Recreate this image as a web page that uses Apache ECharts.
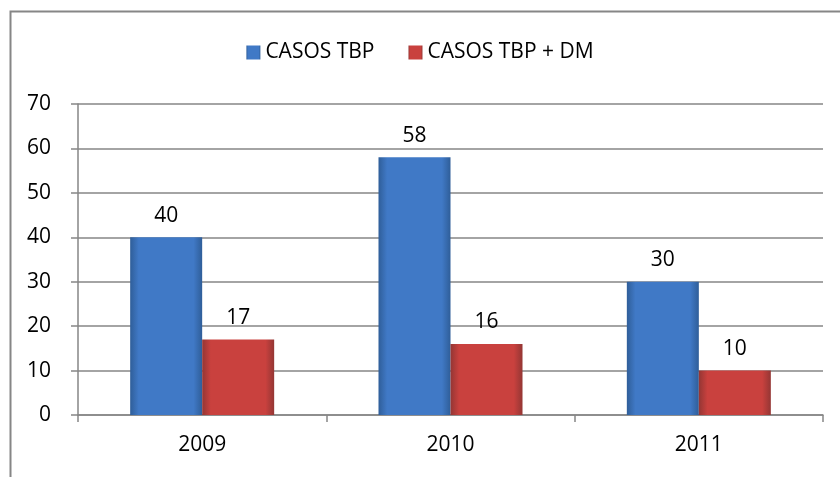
<!DOCTYPE html>
<html>
<head>
<meta charset="utf-8">
<script src="https://cdn.jsdelivr.net/npm/echarts@6/dist/echarts.min.js"></script>
<style>
  html, body { margin: 0; padding: 0; background: #fff; }
  #chart { width: 840px; height: 477px; }
</style>
</head>
<body>
<div id="chart"></div>
<script>
// datos
const years = ["2009", "2010", "2011"];
const casosTbp = [40, 58, 30];
const casosTbpDm = [17, 16, 10];
const yTicks = [0, 10, 20, 30, 40, 50, 60, 70];

const font = "'Open Sans', 'Liberation Sans', sans-serif";

function bevel(edge, mid) {
  return new echarts.graphic.LinearGradient(0, 0, 1, 0, [
    { offset: 0, color: edge },
    { offset: 0.12, color: mid },
    { offset: 0.88, color: mid },
    { offset: 1, color: edge },
  ]);
}

const chart = echarts.init(document.getElementById("chart"));
chart.setOption({
  animation: false,
  textStyle: { fontFamily: font },
  graphic: [
    {
      type: "rect",
      left: 8,
      top: 9,
      shape: { width: 840, height: 480 },
      style: { fill: "none", stroke: "#868686", lineWidth: 2 },
      z: -1,
    },
  ],
  legend: {
    top: 37,
    left: "center",
    itemWidth: 14,
    itemHeight: 14,
    itemGap: 34,
    itemTextGap: 5,
    icon: "rect",
    textStyle: { fontSize: 21, color: "#000", fontFamily: font },
    data: ["CASOS TBP", "CASOS TBP + DM"],
  },
  grid: { left: 78, right: 17, top: 104, bottom: 62 },
  xAxis: {
    type: "category",
    data: years,
    axisLine: { lineStyle: { color: "#868686", width: 1.5 } },
    axisTick: { show: true, length: 7, lineStyle: { color: "#868686", width: 1.5 } },
    axisLabel: { fontSize: 21, color: "#000", margin: 20 },
  },
  yAxis: {
    type: "value",
    min: yTicks[0],
    max: yTicks[yTicks.length - 1],
    interval: 10,
    axisLine: { show: true, lineStyle: { color: "#868686", width: 1.5 } },
    axisTick: { show: true, length: 7, lineStyle: { color: "#868686", width: 1.5 } },
    splitLine: { lineStyle: { color: "#868686", width: 1.5 } },
    axisLabel: { fontSize: 21, color: "#000", margin: 27 },
  },
  series: [
    {
      name: "CASOS TBP",
      type: "bar",
      data: casosTbp,
      barWidth: 72,
      barGap: "0%",
      color: "#4a7ebb",
      itemStyle: { color: bevel("#2f5e99", "#4079c6") },
      label: { show: true, position: "top", distance: 11, fontSize: 21, color: "#000" },
    },
    {
      name: "CASOS TBP + DM",
      type: "bar",
      data: casosTbpDm,
      barWidth: 72,
      barGap: "0%",
      color: "#c0504d",
      itemStyle: { color: bevel("#943634", "#c9413e") },
      label: { show: true, position: "top", distance: 11, fontSize: 21, color: "#000" },
    },
  ],
});
</script>
</body>
</html>
